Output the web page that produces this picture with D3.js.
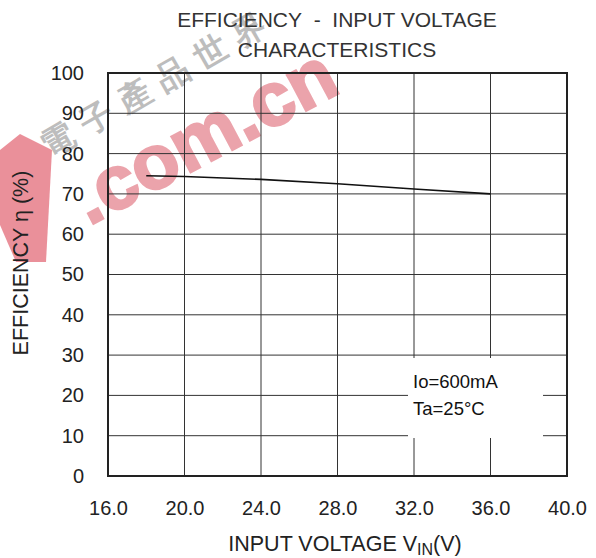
<!DOCTYPE html>
<html>
<head>
<meta charset="utf-8">
<script src="https://cdn.jsdelivr.net/npm/d3@7"></script>
<style>
  body { margin: 0; background: #fff; }
  text { font-family: "Liberation Sans", Arial, sans-serif; }
</style>
</head>
<body>
<svg id="drawing" width="596" height="558"></svg>
<script>
// values
const vin = [18, 20, 24, 28, 32, 36];
const efficiency = [74.5, 74.3, 73.6, 72.5, 71.2, 70.0];
const xTicks = [16, 20, 24, 28, 32, 36, 40];
const yTicks = [0, 10, 20, 30, 40, 50, 60, 70, 80, 90, 100];
const titleLines = ["EFFICIENCY\u00a0\u00a0-\u00a0\u00a0INPUT VOLTAGE", "CHARACTERISTICS"];
const noteLines = ["Io=600mA", "Ta=25°C"];
const markChars = ["電", "子", "產", "品", "世", "界"];

const svg = d3.select("svg#drawing");
const plot = { left: 108, right: 567, top: 73, bottom: 476 };

const x = d3.scaleLinear().domain([16, 40]).range([plot.left, plot.right]);
const y = d3.scaleLinear().domain([0, 100]).range([plot.bottom, plot.top]);

// watermark, behind everything
const wm = svg.append("g").attr("class", "watermark");
wm.append("polygon")
   .attr("points", "0,150 20,134 52,150 46,262 16,262 0,225")
   .attr("fill", "#e36b78").attr("opacity", 0.75);
wm.append("text")
   .attr("transform", "translate(89,226) rotate(-28)")
   .attr("font-size", 76).attr("font-weight", "bold")
   .attr("fill", "#eba3ab")
   .attr("stroke", "#eba3ab").attr("stroke-width", 2.5)
   .text(".com.cn");
const step = 44, ang = 30 * Math.PI / 180;
wm.selectAll(".mk")
   .data(markChars)
   .enter().append("text")
   .attr("class", "mk")
   .attr("transform", (d, i) =>
      `translate(${58 + i * step * Math.cos(ang)},${140 - i * step * Math.sin(ang)}) rotate(-30)`)
   .attr("text-anchor", "middle")
   .attr("dy", "0.35em")
   .attr("font-family", "'Noto Sans CJK TC'")
   .attr("font-size", 33).attr("font-weight", "bold")
   .attr("fill", "#bdbdbd")
   .text(d => d);

// grid
const grid = svg.append("g").attr("stroke", "#333").attr("stroke-width", 1);
grid.selectAll(".vgrid")
   .data(xTicks.slice(1, -1))
   .enter().append("line")
   .attr("class", "vgrid")
   .attr("x1", d => x(d)).attr("x2", d => x(d))
   .attr("y1", plot.top).attr("y2", plot.bottom);
grid.selectAll(".hgrid")
   .data(yTicks.slice(1, -1))
   .enter().append("line")
   .attr("class", "hgrid")
   .attr("x1", plot.left).attr("x2", plot.right)
   .attr("y1", d => y(d)).attr("y2", d => y(d));

// white label box that hides the grid
svg.append("rect")
   .attr("x", 408).attr("y", 358)
   .attr("width", 135).attr("height", 80)
   .attr("fill", "#fff");

// frame
svg.append("rect")
   .attr("x", plot.left).attr("y", plot.top)
   .attr("width", plot.right - plot.left).attr("height", plot.bottom - plot.top)
   .attr("fill", "none").attr("stroke", "#222").attr("stroke-width", 2);

// curve
const line = d3.line().x((d, i) => x(vin[i])).y(d => y(d));
svg.append("path")
   .datum(efficiency)
   .attr("d", line)
   .attr("fill", "none")
   .attr("stroke", "#111")
   .attr("stroke-width", 1.6);

// axes (labels only, the frame draws the lines)
const xAxis = svg.append("g")
   .attr("transform", `translate(0,${plot.bottom})`)
   .call(d3.axisBottom(x).tickValues(xTicks).tickFormat(d3.format(".1f")).tickSize(0).tickPadding(25));
const yAxis = svg.append("g")
   .attr("transform", `translate(${plot.left},0)`)
   .call(d3.axisLeft(y).tickValues(yTicks).tickSize(0).tickPadding(24));
[xAxis, yAxis].forEach(g => {
   g.select(".domain").remove();
   g.selectAll("text")
      .attr("font-family", "Liberation Sans, Arial, sans-serif")
      .attr("font-size", 20)
      .attr("fill", "#222");
});

// title
svg.append("g").selectAll("text")
   .data(titleLines)
   .enter().append("text")
   .attr("x", 337)
   .attr("y", (d, i) => 27 + i * 30)
   .attr("text-anchor", "middle")
   .attr("font-size", 21)
   .attr("fill", "#333")
   .text(d => d);

// axis titles
const xt = svg.append("text")
   .attr("x", 345).attr("y", 551)
   .attr("text-anchor", "middle")
   .attr("font-size", 21.5).attr("fill", "#222");
xt.append("tspan").text("INPUT VOLTAGE V");
xt.append("tspan").attr("font-size", 16).attr("dy", 4).text("IN");
xt.append("tspan").attr("dy", -4).text("(V)");

svg.append("text")
   .attr("transform", "translate(28,263) rotate(-90)")
   .attr("text-anchor", "middle")
   .attr("font-size", 21.5).attr("fill", "#222")
   .text("EFFICIENCY η (%)");

// conditions note
svg.append("g").selectAll("text")
   .data(noteLines)
   .enter().append("text")
   .attr("x", 413)
   .attr("y", (d, i) => 388 + i * 27)
   .attr("font-size", 18.5)
   .attr("fill", "#111")
   .text(d => d);
</script>
</body>
</html>
